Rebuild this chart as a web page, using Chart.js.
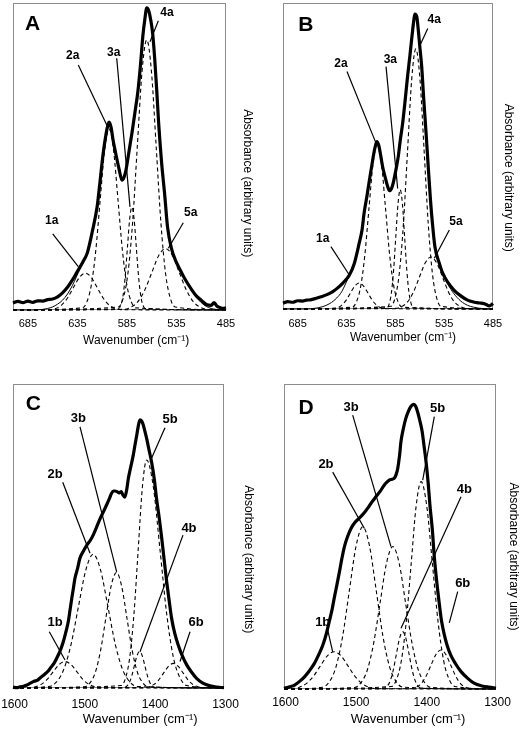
<!DOCTYPE html>
<html><head><meta charset="utf-8">
<script src="https://cdn.jsdelivr.net/npm/chart.js@4.4.1/dist/chart.umd.min.js"></script>
<style>
html,body{margin:0;padding:0;background:#fff;}
#wrap{position:relative;width:522px;height:730px;overflow:hidden;}
canvas{position:absolute;}
</style></head><body>
<div id="wrap">
<canvas id="cA" width="261" height="365" style="left:0;top:0"></canvas>
<canvas id="cB" width="261" height="365" style="left:261px;top:0"></canvas>
<canvas id="cC" width="261" height="365" style="left:0;top:365px"></canvas>
<canvas id="cD" width="261" height="365" style="left:261px;top:365px"></canvas>
</div>
<script>
// ---------- tick labels ----------
const ticksAB = [685, 635, 585, 535, 485];
const ticksCD = [1600, 1500, 1400, 1300];

// ---------- Panel A ----------
const specA_w = [700,695,690,685,680,675,670,665,660,655,650,645,640,636,632,628,625,620,615,612,609,606,604,603,601,599,596,593,590,588,586,583,580,577,574,571,569,567,565,563,561,559,557,555,553,550,547,544,540,536,532,528,524,520,515,510,505,500,497,494,491,488,485];
const specA_abs = [2.3,2.8,2.4,2.9,2.5,3.0,2.9,3.4,3.6,4.3,5.6,7.4,9.8,12.0,14.2,16.5,18.6,25.5,33.8,42.3,51.0,57.5,60.5,61.2,59.5,55.4,50.5,46.0,42.3,43.2,45.5,51.5,57.5,64.2,71.0,81.0,89.0,94.5,98.4,97.5,94.5,90.0,82.0,72.0,61.0,48.0,38.0,27.0,20.0,16.2,13.5,11.0,8.8,6.8,4.6,3.2,1.8,1.5,2.4,1.2,0.8,0.5,0.7];
const fitA_w = [700,680,670,665,660,655,650,645,640,636,632,628,625,620,615,612,609,606,604,603,601,599,596,593,590,588,586,583,580,577,574,571,569,567,565,563,561,559,557,555,553,550,547,544,540,536,532,528,524,520,515,510,505,500,495,490,485];
const fitA_abs = [0,0,0.2,0.5,1.0,1.9,3.2,5.2,8.0,10.8,13.8,16.5,18.6,25.5,33.8,42.3,51.0,57.5,60.5,61.2,59.5,55.4,50.5,46.0,42.3,43.2,45.5,51.5,57.5,64.2,71.0,81.0,89.0,94.5,98.4,97.5,94.5,90.0,82.0,72.0,61.0,48.0,38.0,27.0,20.0,16.2,13.5,11.0,8.8,6.6,4.2,2.4,1.2,0.5,0.2,0.1,0];
const a1_w = [700,663,657,651,645,639,633,627,621,615,609,603,597,591,485];
const a1_abs = [0,0.1,0.5,1.6,3.9,7.3,10.6,12,10.6,7.3,3.9,1.6,0.5,0.1,0];
const a2_w = [700,630,625.5,621,616.5,612,607.5,603,598.5,594,589.5,585,580.5,576,485];
const a2_abs = [0,0.7,2.6,8.0,19.2,35.8,52.1,59,52.1,35.8,19.2,8.0,2.6,0.7,0];
const a3_w = [700,593.5,591.25,589,586.75,584.5,582.25,580,577.75,575.5,573.25,571,568.75,566.5,485];
const a3_abs = [0,0.4,1.5,4.5,10.9,20.3,29.6,33.5,29.6,20.3,10.9,4.5,1.5,0.4,0];
const a4_w = [700,593.5,588.75,584,579.25,574.5,569.75,565,560.25,555.5,550.75,546,541.25,536.5,485];
const a4_abs = [0,1.0,3.9,11.9,28.6,53.4,77.7,88,77.7,53.4,28.6,11.9,3.9,1.0,0];
const a5_w = [700,588,581,574,567,560,553,546,539,532,525,518,511,504,485];
const a5_abs = [0,0.2,0.9,2.7,6.5,12.1,17.7,20,17.7,12.1,6.5,2.7,0.9,0.2,0];

// ---------- Panel B ----------
const specB_w = [700,695,690,685,680,676,672,666,661,655,649,644,639,635,632,627,622,619,617,614,611.5,609,607,605,604,602,600,598,595.5,593,591,589,587,585,582,580,577.5,575,572.5,570,568,566,565,563,561.5,560,558,556,553.5,551,549,547,544.5,540,536.5,531,525,518,511,505,500,497,492,489,487,485];
const specB_abs = [1.9,2.4,2.2,2.7,2.6,2.9,3.0,3.5,4.0,4.7,5.7,6.9,8.4,9.8,11.1,14.9,21.5,26.0,31.3,37.0,42.2,47.0,50.9,53.8,54.7,53.5,50.2,46.5,43.2,40.2,38.7,39.3,41.4,44.5,49.8,55.0,60.7,68.0,75.9,83.0,89.0,94.5,96.4,95.5,91.2,86.0,79.2,69.0,57.4,45.0,35.6,28.0,20.4,15.0,11.7,8.6,6.2,4.3,2.9,2.3,2.0,1.9,1.5,1.0,1.3,1.8];
const fitB_w = [700,675,668,660,652,645,640,636,632,627,622,619,617,614,611.5,609,607,605,604,602,600,598,595.5,593,591,589,587,585,582,580,577.5,575,572.5,570,568,566,565,563,561.5,560,558,556,553.5,551,549,547,544.5,540,536.5,531,525,518,511,505,500,495,490,485];
const fitB_abs = [0,0,0.2,0.7,1.8,3.6,5.6,8.2,11.1,14.9,21.5,26.0,31.3,37.0,42.2,47.0,50.9,53.8,54.7,53.5,50.2,46.5,43.2,40.2,38.7,39.3,41.4,44.5,49.8,55.0,60.7,68.0,75.9,83.0,89.0,94.5,96.4,95.5,91.2,86.0,79.2,69.0,57.4,45.0,35.6,28.0,20.4,15.0,11.7,8.0,5.0,2.6,1.2,0.6,0.3,0.1,0,0];
const b1_w = [700,649,644.5,640,635.5,631,626.5,622,617.5,613,608.5,604,599.5,595,485];
const b1_abs = [0,0.1,0.4,1.2,2.8,5.2,7.5,8.5,7.5,5.2,2.8,1.2,0.4,0.1,0];
const b2_w = [700,629,624.75,620.5,616.25,612,607.75,603.5,599.25,595,590.75,586.5,582.25,578,485];
const b2_abs = [0,0.6,2.4,7.3,17.5,32.8,47.7,54,47.7,32.8,17.5,7.3,2.4,0.6,0];
const b3_w = [700,593.5,591.25,589,586.75,584.5,582.25,580,577.75,575.5,573.25,571,568.75,566.5,485];
const b3_abs = [0,0.4,1.7,5.3,12.7,23.7,34.4,39,34.4,23.7,12.7,5.3,1.7,0.4,0];
const b4_w = [700,589.5,585.25,581,576.75,572.5,568.25,564,559.75,555.5,551.25,547,542.75,538.5,485];
const b4_abs = [0,0.9,3.7,11.5,27.6,51.6,75,85,75,51.6,27.6,11.5,3.7,0.9,0];
const b5_w = [700,584.5,578.5,572.5,566.5,560.5,554.5,548.5,542.5,536.5,530.5,524.5,518.5,512.5,485];
const b5_abs = [0,0.2,0.8,2.3,5.5,10.3,15,17,15,10.3,5.5,2.3,0.8,0.2,0];

// ---------- Panel C ----------
const specC_w = [1600,1595,1590,1585,1580,1576,1570,1565,1562,1555,1550,1547,1542,1538,1533,1528.5,1525,1521.5,1519,1516.5,1514,1512,1508,1505,1500,1495,1490,1486,1481,1476,1471,1467,1463,1460,1457,1455,1452,1449,1446,1444,1441,1438.5,1436,1432.5,1429,1426.5,1424,1422,1419.5,1417,1415,1412.5,1410,1406.5,1403,1399,1396,1392,1388.5,1385,1381.5,1378,1374.5,1370,1365,1360,1353,1346,1339,1330,1320,1310,1300];
const specC_abs = [0.3,0.1,0.4,0.6,1.0,1.5,2.2,2.6,3.2,4.5,5.6,6.5,8.0,9.7,12.2,15.2,18.3,21.7,25.5,29.4,33.0,36.0,39.5,42.6,45.0,47.0,48.6,50.3,53.0,55.8,58.2,60.2,62.3,64.0,64.8,64.8,64.6,64.2,64.6,63.6,62.8,65.0,68.9,72.8,76.6,80.0,83.2,86.0,88.2,87.8,86.7,84.5,82.1,78.2,74.4,68.5,62.4,55.8,49.2,42.0,35.0,28.8,22.9,18.0,14.1,11.0,7.6,5.2,3.2,1.6,0.7,0.3,0.1];
const c1_w = [1600,1577,1568.5,1560,1551.5,1543,1534.5,1526,1517.5,1509,1500.5,1492,1483.5,1475,1300];
const c1_abs = [0,0.1,0.4,1.2,2.8,5.3,7.7,8.7,7.7,5.3,2.8,1.2,0.4,0.1,0];
const c2_w = [1600,1549,1538.5,1528,1517.5,1507,1496.5,1486,1475.5,1465,1454.5,1444,1433.5,1423,1300];
const c2_abs = [0,0.5,1.9,6.0,14.3,26.7,38.8,44,38.8,26.7,14.3,6.0,1.9,0.5,0];
const c3_w = [1600,1498,1490.5,1483,1475.5,1468,1460.5,1453,1445.5,1438,1430.5,1423,1415.5,1408,1300];
const c3_abs = [0,0.4,1.7,5.1,12.3,23,33.5,38,33.5,23,12.3,5.1,1.7,0.4,0];
const c4_w = [1600,1442.5,1438.75,1435,1431.25,1427.5,1423.75,1420,1416.25,1412.5,1408.75,1405,1401.25,1397.5,1300];
const c4_abs = [0,0.1,0.5,1.6,3.9,7.3,10.6,12,10.6,7.3,3.9,1.6,0.5,0.1,0];
const c5_w = [1600,1446,1440,1434,1428,1422,1416,1410,1400.5,1391,1381.5,1372,1362.5,1353,1300];
const c5_abs = [0,0.8,3.3,10.1,24.4,45.5,66.2,75,66.2,45.5,24.4,10.1,3.3,0.8,0];
const c6_w = [1600,1414,1407,1400,1393,1386,1379,1372,1365,1358,1351,1344,1337,1330,1300];
const c6_abs = [0,0.1,0.4,1.1,2.6,4.9,7.1,8.1,7.1,4.9,2.6,1.1,0.4,0.1,0];

// ---------- Panel D ----------
const specD_w = [1600,1592,1585,1578,1571,1564,1557,1551,1545,1540,1536,1532,1529,1525,1521.5,1518,1514.5,1510,1505,1500,1493.5,1487,1481.5,1476,1470,1464,1458,1454,1451,1447,1444,1441.5,1439,1436.5,1434.5,1431,1427.5,1424,1420.5,1416.5,1413.5,1411,1408,1404.5,1402,1399,1396,1393.5,1390,1387.5,1384,1380,1377,1373,1369,1364,1357,1349.5,1340,1331,1320,1310,1300];
const specD_abs = [0.2,0.7,1.3,2.5,4.0,6.0,8.4,11.2,14.4,18.2,22.1,26.0,29.7,34.3,38.5,42.9,46.7,50.0,52.7,54.5,56.0,57.6,59.3,61.2,63.0,64.8,66.9,67.9,68.5,68.8,69.1,70.2,72.4,76.5,81.1,85.5,88.8,91.0,92.6,93.3,92.6,90.9,88.2,84.4,80.0,74.5,67.6,60.3,52.0,43.9,35.5,27.5,22.2,17.7,14.2,11.1,8.2,5.7,3.5,1.9,1.0,0.6,0.3];
const d1_w = [1600,1589,1579,1569,1559,1549,1539,1529,1519,1509,1499,1489,1479,1469,1300];
const d1_abs = [0,0.1,0.5,1.7,4.0,7.4,10.8,12.2,10.8,7.4,4.0,1.7,0.5,0.1,0];
const d2_w = [1600,1545.5,1536,1526.5,1517,1507.5,1498,1488.5,1479,1469.5,1460,1450.5,1441,1431.5,1300];
const d2_abs = [0,0.6,2.3,7.2,17.3,32.3,46.9,53.2,46.9,32.3,17.3,7.2,2.3,0.6,0];
const d3_w = [1600,1500,1491,1482,1473,1464,1455,1446,1437,1428,1419,1410,1401,1392,1300];
const d3_abs = [0,0.5,2.1,6.3,15.2,28.3,41.2,46.7,41.2,28.3,15.2,6.3,2.1,0.5,0];
const d4_w = [1600,1459,1454.5,1450,1445.5,1441,1436.5,1432,1427.5,1423,1418.5,1414,1409.5,1405,1300];
const d4_abs = [0,0.2,0.8,2.5,6.1,11.4,16.6,18.8,16.6,11.4,6.1,2.5,0.8,0.2,0];
const d5_w = [1600,1448,1441,1434,1427,1420,1413,1406,1398,1390,1382,1374,1366,1358,1300];
const d5_abs = [0,0.8,3.0,9.2,22.1,41.2,60,68,60,41.2,22.1,9.2,3.0,0.8,0];
const d6_w = [1600,1420,1413,1406,1399,1392,1385,1378,1371,1364,1357,1350,1343,1336,1300];
const d6_abs = [0,0.1,0.6,1.7,4.2,7.8,11.3,12.8,11.3,7.8,4.2,1.7,0.6,0.1,0];

// ---------- peak labels (text, label position [wavenumber, abs], leader line [w1, a1, w2, a2]) ----------
const peakLabelsA = ['1a','2a','3a','4a','5a'];
const labelPosA = [[660.9,29],[639.7,82.7],[598.4,83.8],[544.6,97],[520.6,31.7]];
const leadersA = [[659.9,24.8,634.1,14.1],[634.1,79.8,603.8,59.2],[595.3,82,581.9,33.6],[553.3,94.2,561.7,87.4],[528.1,28.4,543.2,20.1]];
const peakLabelsB = ['1a','2a','3a','4a','5a'];
const labelPosB = [[659.4,23.1],[640.6,80.3],[590.1,81.4],[545.1,94.4],[522.9,28.5]];
const leadersB = [[650.9,20.4,632.1,11.1],[634.5,77.6,604.8,54.2],[594.5,79.2,582.6,39.4],[551.8,91.7,560.4,85.7],[529.7,25.8,545.1,16.6]];
const peakLabelsC = ['1b','2b','3b','4b','5b','6b'];
const labelPosC = [[1540.3,21.6],[1540.3,70.1],[1507.2,88.7],[1349.8,52.5],[1376.8,88.2],[1339.8,21.6]];
const leadersC = [[1548.4,18.5,1526.1,9.2],[1529.3,67.7,1490.5,44.3],[1504.7,85.9,1452.6,38.2],[1358.3,50.3,1419.4,11.9],[1383.9,85.6,1405.2,74.4],[1348.3,18.5,1362.5,8.7]];
const peakLabelsD = ['1b','2b','3b','4b','5b','6b'];
const labelPosD = [[1545.2,21.9],[1540.6,73.7],[1505.2,92.2],[1344.9,65.5],[1382.5,92],[1347.1,34.6]];
const leadersD = [[1538.2,19.4,1531.1,12.2],[1531.1,71.1,1486.4,52.7],[1502.8,89.8,1448.6,46.7],[1349.5,63,1434.4,19.9],[1387.3,89.3,1403.7,68.5],[1354.2,31.9,1366.1,21.7]];

const FONT = '"Liberation Sans", Arial, Helvetica, sans-serif';
const XTITLE = 'Wavenumber (cm\u207B\u00B9)';
const YTITLE = 'Absorbance (arbitrary units)';
const sp = n => ' '.repeat(n);

function pts(xs, ys) { return xs.map((x, i) => ({x: x, y: ys[i]})); }
function spectrumDs(xs, ys) {
  return {data: pts(xs, ys), borderColor: '#000', borderWidth: 3.2, pointRadius: 0, fill: false,
          cubicInterpolationMode: 'monotone', clip: false};
}
function fitDs(xs, ys) {
  return {data: pts(xs, ys), borderColor: '#000', borderWidth: 1, pointRadius: 0, fill: false,
          cubicInterpolationMode: 'monotone', clip: false};
}
function compDs(xs, ys) {
  return {data: pts(xs, ys), borderColor: '#000', borderWidth: 1.1, borderDash: [4, 3], pointRadius: 0,
          fill: false, cubicInterpolationMode: 'monotone', clip: false};
}

function annotPlugin(ann) {
  return {
    id: 'panelAnnot',
    beforeDatasetsDraw(chart) {
      const {ctx, chartArea: a} = chart;
      ctx.save();
      ctx.strokeStyle = '#8c8c8c'; ctx.lineWidth = 1;
      ctx.strokeRect(a.left + 0.5, a.top + 0.5, a.right - a.left - 1, a.bottom - a.top - 1);
      ctx.restore();
    },
    afterDatasetsDraw(chart) {
      const ctx = chart.ctx, xs = chart.scales.x, ys = chart.scales.y;
      const px = v => xs.getPixelForValue(v), py = v => ys.getPixelForValue(v);
      ctx.save();
      ctx.strokeStyle = '#000'; ctx.lineWidth = 1.2;
      ann.leaders.forEach(l => {
        ctx.beginPath(); ctx.moveTo(px(l[0]), py(l[1])); ctx.lineTo(px(l[2]), py(l[3])); ctx.stroke();
      });
      ctx.fillStyle = '#000'; ctx.textAlign = 'center'; ctx.textBaseline = 'middle';
      ctx.font = 'bold ' + ann.labelSize + 'px ' + FONT;
      ann.labels.forEach((t, i) => ctx.fillText(t, px(ann.pos[i][0]), py(ann.pos[i][1])));
      ctx.font = 'bold 21px ' + FONT;
      ctx.fillText(ann.letter, px(ann.letterPos[0]), py(ann.letterPos[1]));
      ctx.restore();
    }
  };
}

function makePanel(id, cfg) {
  new Chart(document.getElementById(id), {
    type: 'line',
    data: {datasets: cfg.datasets},
    options: {
      responsive: false, animation: false, devicePixelRatio: 1, events: [],
      layout: {autoPadding: false, padding: cfg.pad},
      plugins: {legend: {display: false}, tooltip: {enabled: false}},
      scales: {
        x: {
          type: 'linear', min: cfg.xmin, max: cfg.xmax, reverse: true, position: 'bottom',
          grid: {display: false, drawTicks: false}, border: {display: false},
          afterBuildTicks: s => { s.ticks = cfg.ticks.map(v => ({value: v})); },
          afterFit: s => { s.height = cfg.xH; s.paddingLeft = 0; s.paddingRight = 0; },
          ticks: {font: {family: FONT, size: cfg.tickSize}, color: '#000', padding: cfg.tickPad,
                  labelOffset: cfg.labelOffset, maxRotation: 0, autoSkip: false, callback: v => String(v)},
          title: {display: true, text: sp(cfg.xShift) + XTITLE, color: '#000',
                  font: {family: FONT, size: cfg.titleSize}, padding: {top: 0, bottom: cfg.titlePb}}
        },
        y: {
          type: 'linear', min: 0, max: 100, position: 'right',
          grid: {display: false, drawTicks: false}, border: {display: false},
          ticks: {display: false},
          afterFit: s => { s.width = cfg.yW; s.paddingTop = 0; s.paddingBottom = 0; },
          title: {display: true, text: sp(cfg.yShift) + YTITLE, color: '#000',
                  font: {family: FONT, size: 12}, padding: {top: 1, bottom: 0}}
        }
      }
    },
    plugins: [annotPlugin(cfg.ann)]
  });
}

makePanel('cA', {
  xmin: 485, xmax: 700, ticks: ticksAB,
  datasets: [spectrumDs(specA_w, specA_abs), fitDs(fitA_w, fitA_abs),
    compDs(a1_w, a1_abs), compDs(a2_w, a2_abs), compDs(a3_w, a3_abs), compDs(a4_w, a4_abs), compDs(a5_w, a5_abs)],
  pad: {left: 13, top: 3, right: 5, bottom: 13}, xH: 42, yW: 30, labelOffset: 0,
  tickSize: 11, tickPad: 7, titleSize: 12, titlePb: 4, xShift: 10, yShift: 16,
  ann: {letter: 'A', letterPos: [680.3, 93], labels: peakLabelsA, pos: labelPosA, leaders: leadersA, labelSize: 12}
});
makePanel('cB', {
  xmin: 485, xmax: 700, ticks: ticksAB,
  datasets: [spectrumDs(specB_w, specB_abs), fitDs(fitB_w, fitB_abs),
    compDs(b1_w, b1_abs), compDs(b2_w, b2_abs), compDs(b3_w, b3_abs), compDs(b4_w, b4_abs), compDs(b5_w, b5_abs)],
  pad: {left: 22, top: 3, right: 5, bottom: 14}, xH: 42, yW: 24, labelOffset: 0,
  tickSize: 11, tickPad: 8, titleSize: 12, titlePb: 6, xShift: 9, yShift: 13,
  ann: {letter: 'B', letterPos: [676.5, 92.8], labels: peakLabelsB, pos: labelPosB, leaders: leadersB, labelSize: 12}
});
makePanel('cC', {
  xmin: 1300, xmax: 1600, ticks: ticksCD,
  datasets: [spectrumDs(specC_w, specC_abs),
    compDs(c1_w, c1_abs), compDs(c2_w, c2_abs), compDs(c3_w, c3_abs), compDs(c4_w, c4_abs), compDs(c5_w, c5_abs), compDs(c6_w, c6_abs)],
  pad: {left: 13, top: 19, right: 4, bottom: 0}, xH: 42, yW: 33, labelOffset: 1.5,
  tickSize: 12, tickPad: 9, titleSize: 13, titlePb: 3, xShift: 12, yShift: 14,
  ann: {letter: 'C', letterPos: [1571.1, 93.2], labels: peakLabelsC, pos: labelPosC, leaders: leadersC, labelSize: 13}
});
makePanel('cD', {
  xmin: 1300, xmax: 1600, ticks: ticksCD,
  datasets: [spectrumDs(specD_w, specD_abs),
    compDs(d1_w, d1_abs), compDs(d2_w, d2_abs), compDs(d3_w, d3_abs), compDs(d4_w, d4_abs), compDs(d5_w, d5_abs), compDs(d6_w, d6_abs)],
  pad: {left: 23, top: 19, right: 0, bottom: 0}, xH: 41, yW: 26, labelOffset: 1.5,
  tickSize: 12, tickPad: 6, titleSize: 13, titlePb: 3, xShift: 10, yShift: 12,
  ann: {letter: 'D', letterPos: [1568.9, 92.1], labels: peakLabelsD, pos: labelPosD, leaders: leadersD, labelSize: 13}
});
</script>
</body></html>
